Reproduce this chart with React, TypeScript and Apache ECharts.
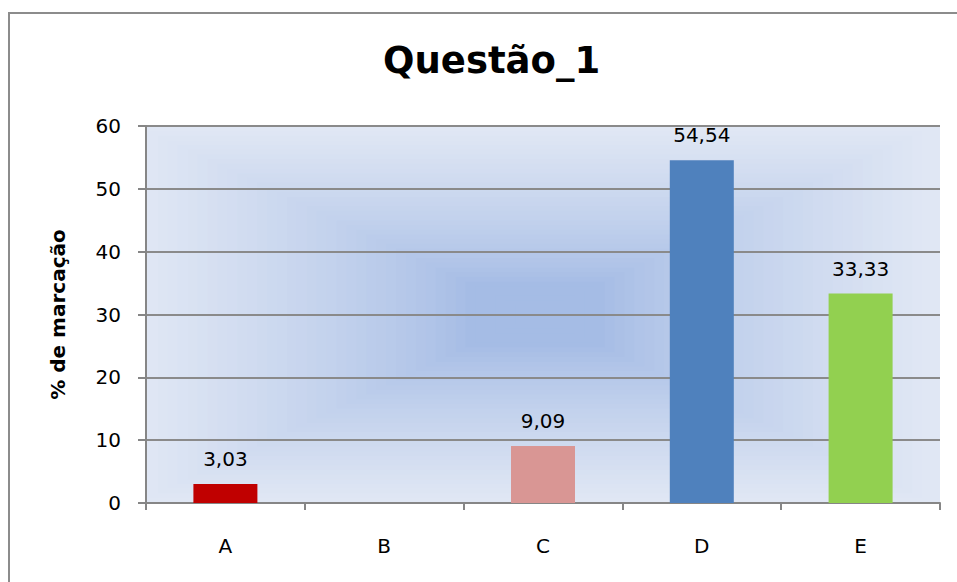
import React, { useEffect, useRef } from "react";
import * as echarts from "echarts";

const title = "Questão_1";
const yAxisName = "% de marcação";
const categories = ["A", "B", "C", "D", "E"];
const values = [3.03, 0, 9.09, 54.54, 33.33];
const barColors = ["#c00000", "#4f81bd", "#d99694", "#4f81bd", "#92d050"];
const yTicks = { min: 0, max: 60, interval: 10 };

const FONT = "'DejaVu Sans', sans-serif";
const GRID = { left: 146, right: 17, top: 126, bottom: 79 };
const W = 957;
const H = 582;

// rectangular ("from centre") background gradient: edge colour -> centre colour
const EDGE = [224, 231, 244];
const CORE = [165, 188, 229];

function bgRects() {
  const gw = W - GRID.left - GRID.right;
  const gh = H - GRID.top - GRID.bottom;
  const cx = GRID.left + gw * 0.49;
  const cy = GRID.top + gh * 0.5;
  const N = 40;
  const out: any[] = [];
  for (let i = 0; i < N; i++) {
    const t = 1 - i / N; // 1 = edge, 0 = centre
    const k = Math.max(0, Math.min(1, (t - 0.18) / 0.82));
    const f = Math.pow(k, 0.8);
    const c = EDGE.map((e, j) => Math.round(CORE[j] + (e - CORE[j]) * f));
    const w = gw * t;
    const h = gh * t;
    const x0 = Math.max(GRID.left, cx - w / 2);
    const y0 = Math.max(GRID.top, cy - h / 2);
    const x1 = Math.min(GRID.left + gw, cx + w / 2);
    const y1 = Math.min(GRID.top + gh, cy + h / 2);
    out.push({
      type: "rect",
      shape: { x: i === 0 ? GRID.left : x0, y: i === 0 ? GRID.top : y0, width: i === 0 ? gw : x1 - x0, height: i === 0 ? gh : y1 - y0 },
      style: { fill: `rgb(${c[0]},${c[1]},${c[2]})` },
      z: -15,
      z2: i,
      silent: true,
    });
  }
  return out;
}

export default function App() {
  const ref = useRef<HTMLDivElement>(null);
  useEffect(() => {
    if (!ref.current) return;
    const chart = echarts.init(ref.current, undefined, { renderer: "svg" });
    chart.setOption({
      animation: false,
      backgroundColor: "#ffffff",
      graphic: [
        {
          type: "polyline",
          shape: { points: [[9, 700], [9, 13], [1100, 13]] },
          style: { fill: "none", stroke: "#8c8c8c", lineWidth: 2 },
          z: -20,
          silent: true,
        },
        ...bgRects(),
      ],
      title: {
        text: title,
        left: 378,
        top: 37,
        textStyle: { fontFamily: FONT, fontWeight: "bold", fontSize: 37, color: "#000" },
      },
      grid: { ...GRID, show: false },
      xAxis: {
        type: "category",
        data: categories,
        axisLine: { show: true, lineStyle: { color: "#868686", width: 2 } },
        axisTick: { show: true, length: 7, alignWithLabel: false, lineStyle: { color: "#868686", width: 2 } },
        axisLabel: { fontFamily: FONT, fontSize: 20, color: "#000", margin: 33 },
      },
      yAxis: {
        type: "value",
        min: yTicks.min,
        max: yTicks.max,
        interval: yTicks.interval,
        name: yAxisName,
        nameLocation: "middle",
        nameGap: 78,
        nameRotate: 90,
        nameTextStyle: { fontFamily: FONT, fontWeight: "bold", fontSize: 20, color: "#000" },
        axisLine: { show: true, lineStyle: { color: "#868686", width: 2 } },
        axisTick: { show: true, length: 8, lineStyle: { color: "#868686", width: 2 } },
        axisLabel: { fontFamily: FONT, fontSize: 20, color: "#000", margin: 25 },
        splitLine: { show: true, lineStyle: { color: "#8a8a8a", width: 2 } },
      },
      series: [
        {
          type: "bar",
          barWidth: 64,
          data: values.map((v, i) => ({
            value: v,
            itemStyle: { color: barColors[i] },
            label: { show: v !== 0 },
          })),
          label: {
            show: true,
            position: "top",
            distance: 15,
            fontFamily: FONT,
            fontSize: 20,
            color: "#000",
            formatter: (p: any) => p.value.toFixed(2).replace(".", ","),
          },
        },
      ],
    });
    return () => chart.dispose();
  }, []);
  return (
    <div
      ref={ref}
      style={{ position: "absolute", left: 0, top: 0, width: W, height: H }}
    />
  );
}
